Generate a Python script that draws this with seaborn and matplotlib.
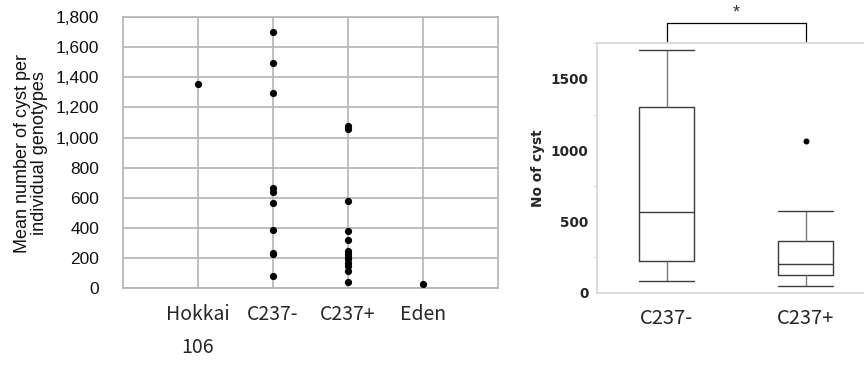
import matplotlib
matplotlib.use("Agg")
import matplotlib.pyplot as plt
import pandas as pd
import seaborn as sns
from matplotlib.ticker import FuncFormatter, MultipleLocator

# ---- data ----
genotypes = ["Hokkai\n106", "C237-", "C237+", "Eden"]
hokkai_means = [1355]
c237_minus_means = [1703, 1492, 1298, 668, 637, 566, 390, 231, 225, 83]
c237_plus_means = [1075, 1060, 577, 383, 319, 247, 228, 210, 192, 170, 150, 114, 44]
eden_means = [28]

box_groups = ["C237-", "C237+"]
# values (whisker ends, quartiles, median, outlier)
box_c237_minus = [82, 225, 566, 1300, 1703]
box_c237_plus = [47, 124, 124, 199, 199, 365, 365, 576, 1067]

sns.set_style("white")
plt.rcParams["font.family"] = ["Liberation Sans", "DejaVu Sans"]

fig = plt.figure(figsize=(8.64, 3.73), dpi=100)

# ---------------- left: strip plot ----------------
ax1 = fig.add_axes([123 / 864, 1 - 288.3 / 373, 375 / 864, (288.3 - 17) / 373])
left_df = pd.DataFrame({
    "genotype": [genotypes[0]] * len(hokkai_means) + [genotypes[1]] * len(c237_minus_means)
    + [genotypes[2]] * len(c237_plus_means) + [genotypes[3]] * len(eden_means),
    "cyst": hokkai_means + c237_minus_means + c237_plus_means + eden_means,
})
sns.stripplot(data=left_df, x="genotype", y="cyst", order=genotypes, jitter=False,
              color="black", size=5.2, linewidth=0, ax=ax1, zorder=3)
ax1.set_xlim(-1, 4)
ax1.set_ylim(0, 1800)
ax1.yaxis.set_major_locator(MultipleLocator(200))
ax1.yaxis.set_major_formatter(FuncFormatter(lambda v, p: f"{int(v):,}"))
ax1.grid(True, color="#b4b4b4", linewidth=1.2)
ax1.set_axisbelow(True)
for s in ax1.spines.values():
    s.set_color("#b4b4b4")
    s.set_linewidth(1.2)
ax1.tick_params(axis="both", length=0)
ax1.tick_params(axis="y", labelsize=12.5, pad=17, labelcolor="#111111")
ax1.tick_params(axis="x", labelsize=14, pad=11)
for lab in ax1.get_xticklabels():
    lab.set_fontfamily(["Noto Sans CJK JP", "DejaVu Sans"])
    lab.set_linespacing(1.8)
ax1.set_xlabel("")
ax1.set_ylabel("")
fig.text(31 / 864, 1 - 153 / 373, "Mean number of cyst per\nindividual genotypes",
         rotation=90, ha="center", va="center", multialignment="center",
         fontsize=13, color="#111111", linespacing=0.95)

# ---------------- right: box plot ----------------
ax2 = fig.add_axes([597 / 864, 1 - 292.7 / 373, 267 / 864, (292.7 - 43.3) / 373])
box_df = pd.DataFrame({
    "group": [box_groups[0]] * len(box_c237_minus) + [box_groups[1]] * len(box_c237_plus),
    "cyst": box_c237_minus + box_c237_plus,
})
sns.boxplot(data=box_df, x="group", y="cyst", order=box_groups, width=0.39,
            fill=False, color="#3c3c3c", linewidth=1.0, capwidths=0.39,
            whiskerprops={"color": "#7a7a7a"},
            flierprops={"marker": "o", "markersize": 3.3, "markerfacecolor": "black",
                        "markeredgecolor": "black"},
            ax=ax2)
ax2.set_xlim(-0.5, 1.42)
ax2.set_ylim(0, 1750)
ax2.yaxis.set_major_locator(MultipleLocator(500))
ax2.yaxis.set_minor_locator(MultipleLocator(250))
for name, s in ax2.spines.items():
    s.set_color("#d4d4d4")
    s.set_linewidth(1.2)
ax2.spines["right"].set_visible(False)
ax2.tick_params(axis="y", which="major", length=4, color="#bdbdbd", labelsize=9.8, pad=2)
ax2.tick_params(axis="y", which="minor", length=3, color="#d4d4d4", left=True)
for lab in ax2.get_yticklabels():
    lab.set_fontweight("bold")
    lab.set_fontfamily("DejaVu Sans")
ax2.tick_params(axis="x", length=0, labelsize=14.5, pad=11)
for lab in ax2.get_xticklabels():
    lab.set_fontfamily(["Noto Sans CJK JP", "DejaVu Sans"])
ax2.set_xlabel("")
ax2.set_ylabel("")
fig.text(538 / 864, 1 - 168 / 373, "No of cyst", rotation=90, ha="center", va="center",
         fontsize=9.8, fontweight="bold", fontfamily="DejaVu Sans")

# significance bracket
ytop = 1750 * (292.7 - 23.3) / (292.7 - 43.3)
ybot = 1750 * (292.7 - 40.7) / (292.7 - 43.3)
ax2.plot([0, 0, 1, 1], [ybot, ytop, ytop, ybot], color="black", linewidth=0.9, clip_on=False)
ax2.text(0.5, ytop + 15, "*", ha="center", va="bottom", fontsize=13, color="#333333",
         clip_on=False)

fig.savefig("out.png", dpi=100)
